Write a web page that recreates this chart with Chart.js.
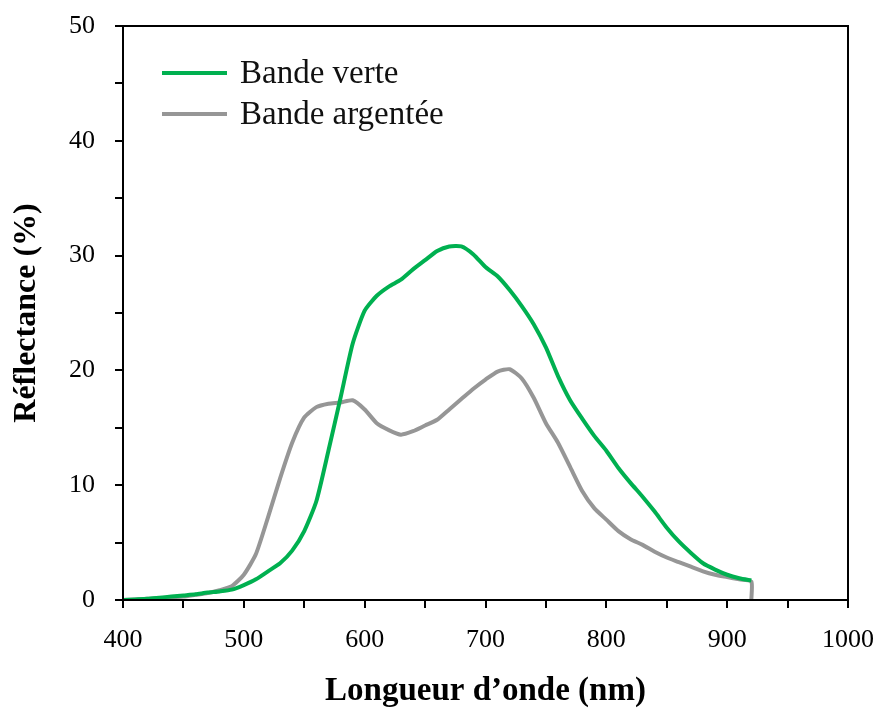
<!DOCTYPE html>
<html>
<head>
<meta charset="utf-8">
<script src="https://cdn.jsdelivr.net/npm/chart.js@4/dist/chart.umd.min.js"></script>
<style>
	body { margin: 0; background: #fff; }
	#wrap { position: relative; width: 881px; height: 711px; }
	#legend { position: absolute; left: 162px; top: 52px; font-family: "Liberation Serif", "DejaVu Serif", serif; font-size: 33px; color: #111; }
	.item { display: flex; align-items: center; height: 41px; }
	.swatch { width: 65px; height: 4px; margin-right: 13px; }
</style>
</head>
<body>
<div id="wrap">
	<canvas id="chart" width="881" height="711"></canvas>
	<div id="legend"></div>
</div>
<script>
const wavelengths = [400, 410, 420, 430, 440, 450, 460, 470, 480, 490, 500, 510, 520, 530, 540, 550, 560, 570, 580, 590, 600, 610, 620, 630, 640, 650, 660, 670, 680, 690, 700, 710, 720, 730, 740, 750, 760, 770, 780, 790, 800, 810, 820, 830, 840, 850, 860, 870, 880, 890, 900, 910, 920];
const greenBand = [0.0, 0.05, 0.1, 0.2, 0.3, 0.4, 0.5, 0.65, 0.75, 0.9, 1.3, 1.8, 2.5, 3.2, 4.3, 6.0, 8.6, 13.0, 17.6, 22.3, 25.2, 26.5, 27.3, 27.9, 28.8, 29.6, 30.4, 30.8, 30.8, 30.1, 29.0, 28.2, 27.0, 25.6, 24.0, 22.0, 19.5, 17.4, 15.8, 14.3, 13.0, 11.5, 10.2, 9.0, 7.7, 6.3, 5.1, 4.1, 3.2, 2.65, 2.2, 1.9, 1.7];
const silverWavelengths = wavelengths.concat([920]);
const silverBand = [0.0, 0.05, 0.1, 0.15, 0.25, 0.3, 0.45, 0.6, 0.85, 1.2, 2.2, 4.0, 7.2, 10.6, 13.7, 15.9, 16.8, 17.1, 17.2, 17.4, 16.6, 15.4, 14.8, 14.4, 14.7, 15.2, 15.7, 16.6, 17.5, 18.4, 19.2, 19.9, 20.1, 19.3, 17.6, 15.4, 13.7, 11.6, 9.5, 8.0, 7.0, 6.0, 5.3, 4.8, 4.2, 3.7, 3.3, 2.9, 2.5, 2.2, 2.0, 1.8, 1.6, 0.0];
const seriesLabels = ["Bande verte", "Bande argentée"];
const seriesColors = ["#00b050", "#969696"];

const serif = "'Liberation Serif', 'DejaVu Serif', serif";

function toPoints(xs, ys) {
	return xs.map((x, i) => ({ x: x, y: ys[i] }));
}

/* box around the plot area */
const frame = {
	id: "frame",
	afterDraw(chart) {
		const a = chart.chartArea;
		const ctx = chart.ctx;
		ctx.save();
		ctx.strokeStyle = "#000";
		ctx.lineWidth = 2;
		ctx.strokeRect(a.left, a.top, a.right - a.left, a.bottom - a.top);
		ctx.restore();
	}
};

const axisStyle = {
	grid: { drawOnChartArea: false, color: "#000", lineWidth: 2, tickLength: 8 },
	border: { color: "#000", width: 2 }
};

const chart = new Chart(document.getElementById("chart"), {
	type: "line",
	data: {
		datasets: [
			{
				label: seriesLabels[0],
				data: toPoints(wavelengths, greenBand),
				borderColor: seriesColors[0],
				borderWidth: 4,
				pointRadius: 0,
				tension: 0.2
			},
			{
				label: seriesLabels[1],
				data: toPoints(silverWavelengths, silverBand),
				borderColor: seriesColors[1],
				borderWidth: 4,
				pointRadius: 0,
				tension: 0.2
			}
		]
	},
	options: {
		responsive: false,
		animation: false,
		layout: { padding: { top: 26, right: 33, left: 8, bottom: 0 } },
		plugins: { legend: { display: false }, tooltip: { enabled: false } },
		scales: {
			x: {
				type: "linear",
				min: 400,
				max: 1000,
				...axisStyle,
				afterFit: (scale) => {
					scale.height = 111;
					scale.paddingLeft = 0;
					scale.paddingRight = 0;
				},
				ticks: {
					stepSize: 50,
					padding: 17,
					color: "#000",
					font: { family: serif, size: 26 },
					callback: (v) => (v % 100 === 0 ? v : "")
				},
				title: {
					display: true,
					text: "Longueur d\u2019onde (nm)",
					color: "#000",
					font: { family: serif, size: 33, weight: "bold" },
					padding: 0
				}
			},
			y: {
				min: 0,
				max: 50,
				...axisStyle,
				afterFit: (scale) => {
					scale.width = 115;
					scale.paddingTop = 0;
					scale.paddingBottom = 0;
				},
				ticks: {
					stepSize: 5,
					padding: 20,
					color: "#000",
					font: { family: serif, size: 26 },
					callback: (v) => (v % 10 === 0 ? v : "")
				},
				title: {
					display: true,
					text: "Réflectance (%)",
					color: "#000",
					font: { family: serif, size: 32, weight: "bold" },
					padding: 0
				}
			}
		}
	},
	plugins: [frame]
});

/* legend drawn inside the plot, from the dataset settings */
const legend = document.getElementById("legend");
chart.data.datasets.forEach((ds) => {
	const item = document.createElement("div");
	item.className = "item";
	const swatch = document.createElement("span");
	swatch.className = "swatch";
	swatch.style.background = ds.borderColor;
	const text = document.createElement("span");
	text.textContent = ds.label;
	item.appendChild(swatch);
	item.appendChild(text);
	legend.appendChild(item);
});
</script>
</body>
</html>
